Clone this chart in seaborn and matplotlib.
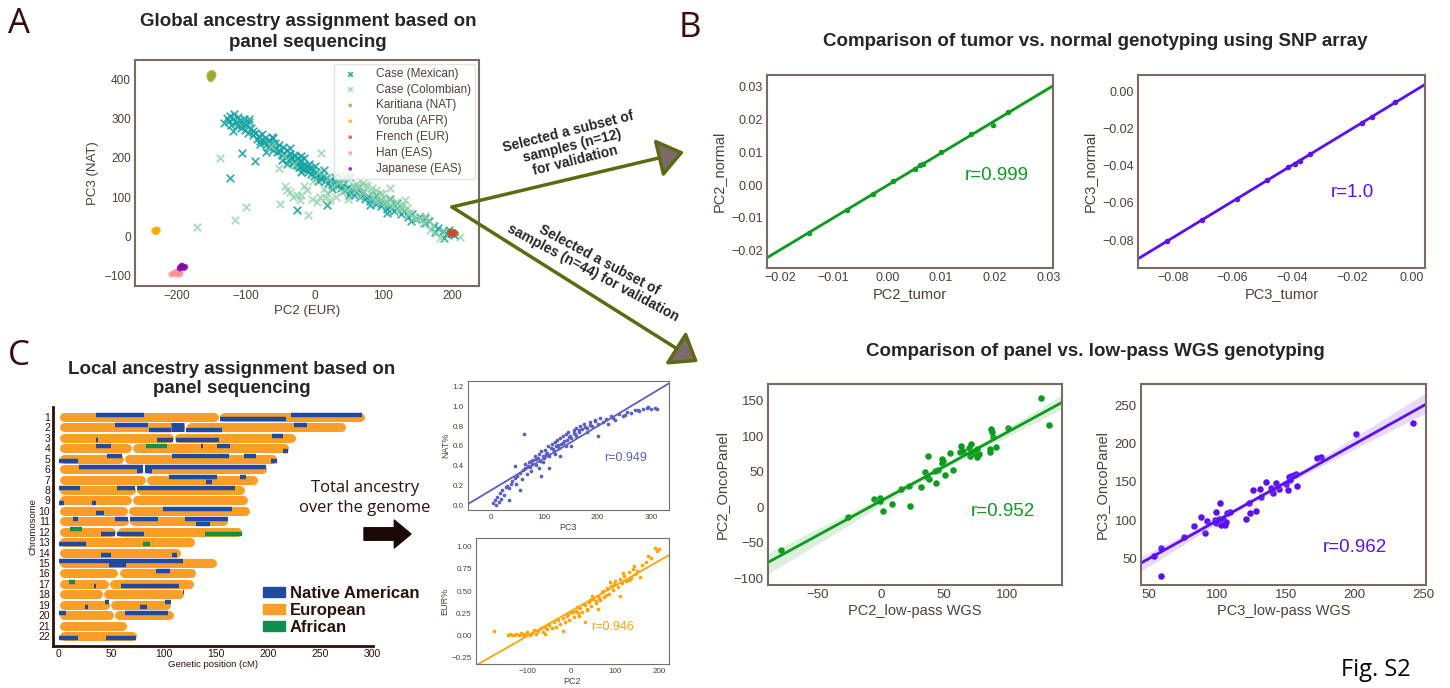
import matplotlib
matplotlib.use("Agg")
import matplotlib.pyplot as plt
from matplotlib.patches import FancyArrowPatch, Patch
import seaborn as sns

W, H = 1450, 688

# ---------------- panel A: global PCA (PC2 vs PC3) ----------------
MEX_PC2 = [-131, -127, -125, -123, -121, -119, -117, -114, -113, -111, -108, -107, -105, -103, -101,
           -99, -97, -95, -93, -90, -89, -86, -84, -81, -79, -77, -74, -72, -69, -67, -66, -63, -61,
           -58, -56, -54, -52, -50, -48, -46, -44, -42, -40, -38, -36, -34, -32, -30, -28, -27, -25,
           -23, -21, -19, -17, -15, -13, -11, -9, -7, -5, -3, -1, 2, 4, 7, 9, 12, 15, 17, 20, 23, 26,
           29, 32, 35, 38, 41, 44, 48, 51, 55, 58, 62, 66, 69, 73, 77, 81, 85, 89, 93, 97, 101, 106,
           110, 115, 120, 125, 130, 136, 141, 147, 153, 160, 166, 173, 180, 186, 191, 195, 199, 203,
           -123, -106, -86, -26, 18, 52, 110, -60, -20, 30,
           -118, -95, -80, -62, -48, -35, -20, -8, 5, 14, 25, 40, 50, 65, 80, 90, 105, 120, 140, 160,
           175, 188, -70, -40, 0, -15, -28, -24, -31, -22]
MEX_PC3 = [290, 302, 296, 308, 285, 300, 312, 293, 281, 305, 297, 278, 288, 300, 272,
           284, 265, 292, 276, 258, 270, 264, 249, 257, 243, 262, 240, 251, 236, 229, 247, 232, 221,
           238, 226, 215, 233, 219, 208, 227, 212, 203, 220, 196, 211, 199, 188, 207, 193, 182, 201,
           187, 178, 195, 172, 183, 168, 179, 164, 174, 160, 170, 155, 164, 150, 158, 146, 154, 140,
           149, 136, 144, 131, 139, 127, 135, 122, 131, 117, 126, 112, 120, 106, 114, 100, 109, 95,
           103, 89, 97, 83, 90, 76, 84, 70, 78, 64, 71, 57, 63, 50, 56, 43, 48, 34, 38, 25, 20, 12,
           6, 15, 9, 3, 148, 213, 192, 67, 80, 150, 95, 250, 205, 150,
           270, 300, 235, 255, 195, 225, 165, 185, 140, 168, 120, 145, 105, 125, 80, 105, 60, 85, 38,
           45, 10, -5, 215, 185, 180, 200, 205, 182, 190, 176]
COL_PC2 = [-171, -137, -115, -99, -64, -52, -50, -43, -36, -31, -26, -21, -16, -11, -9, -4, -2, 3,
           8, 9, 13, 18, 22, 27, 31, 37, 40, 42, 47, 49, 52, 56, 60, 61, 64, 66, 71, 74, 76, 80, 83,
           85, 88, 90, 95, 98, 100, 105, 108, 110, 114, 118, 124, 128, 131, 136, 139, 144, 148, 153,
           158, 165, 168, 172, 177, 182, 188, 211, -45, -30, 5, 20, 35, 58, 95, 125,
           -40, -20, 15, 45, 70, 102, 135, 160]
COL_PC3 = [24, 201, 40, 74, 230, 174, 82, 127, 112, 100, 106, 93, 128, 118, 54, 96, 140, 88,
           101, 212, 120, 109, 93, 127, 100, 157, 112, 140, 118, 96, 153, 131, 118, 127, 100, 144,
           114, 130, 127, 110, 122, 101, 90, 118, 93, 108, 101, 84, 95, 123, 76, 86, 67, 80, 93, 60,
           58, 50, 41, 45, 33, 41, 16, 28, 7, -6, 10, -2, 205, 185, 165, 148, 138, 125, 110, 78,
           118, 104, 98, 150, 135, 88, 72, 52]
KAR_PC2 = [-152, -150, -148, -150, -147, -153, -149, -151]
KAR_PC3 = [415, 412, 408, 405, 414, 408, 418, 402]
YRI_PC2 = [-232, -230, -229, -231, -233, -228]
YRI_PC3 = [15, 12, 17, 10, 13, 14]
FRE_PC2 = [196, 200, 203, 198, 205, 201, 199]
FRE_PC3 = [8, 5, 10, 12, 6, 8, 3]
HAN_PC2 = [-205, -200, -196, -202, -208, -195, -199]
HAN_PC3 = [-97, -95, -93, -92, -98, -96, -99]
JPT_PC2 = [-195, -192, -190, -193, -188, -196]
JPT_PC3 = [-80, -78, -82, -76, -79, -83]

# ---------------- panel B: tumor vs normal (SNP array) ----------------
PC2_TUMOR = [-0.0145, -0.0075, -0.0027, 0.0011, 0.0051, 0.0061, 0.0067, 0.0099, 0.0155, 0.0196, 0.0225]
PC2_NORMAL = [-0.0145, -0.0076, -0.0027, 0.0011, 0.0050, 0.0061, 0.0065, 0.0100, 0.0155, 0.0184, 0.0224]
PC3_TUMOR = [-0.082, -0.0702, -0.0587, -0.0485, -0.0414, -0.0392, -0.0375, -0.0341, -0.0168, -0.0134, -0.0056]
PC3_NORMAL = [-0.0804, -0.0692, -0.0579, -0.0478, -0.0408, -0.039, -0.0374, -0.0338, -0.0167, -0.0137, -0.0056]

# ---------------- panel B (bottom): panel vs low-pass WGS ----------------
PC2_WGS = [127.1, 133.2, -79.2, -26.1, -5.4, -0.9, -0.4, 1.2, 8.4, 15.6, 22.5, 23.0, 31.8, 35.0,
           37.1, 36.8, 38.4, 42.9, 43.7, 48.8, 48.8, 49.0, 51.1, 54.9, 57.0, 62.8, 63.4, 65.0, 69.5,
           71.6, 70.8, 73.4, 75.6, 76.6, 78.2, 76.1, 87.5, 88.0, 86.7, 86.7, 91.5, 88.8, 100.8, 45.6]
PC2_PANEL = [154.2, 115.8, -60.1, -14.2, 11.2, 12.6, 9.3, -5.3, 5.1, 26.2, 30.0, 2.3, 28.1, 50.1,
             72.1, 43.1, 39.8, 51.5, 33.7, 67.4, 62.8, 65.1, 44.9, 76.8, 52.4, 77.3, 85.7, 79.6, 83.9,
             89.0, 72.1, 75.9, 78.7, 71.2, 75.0, 82.0, 110.1, 105.4, 78.2, 82.0, 84.3, 98.4, 111.1, 52.4]
PC3_WGS = [53.6, 59.0, 59.0, 75.3, 82.6, 88.2, 91.1, 92.6, 97.9, 99.1, 99.1, 101.6, 101.1, 102.8,
           104.0, 105.7, 106.4, 106.9, 109.4, 121.0, 123.0, 124.0, 125.9, 127.9, 130.8, 131.5, 135.2,
           138.8, 140.0, 140.5, 142.9, 144.9, 150.2, 151.4, 152.2, 152.7, 153.9, 155.6, 157.5, 158.0,
           172.6, 175.1, 201.3, 242.2]
PC3_PANEL = [53.5, 64.0, 27.3, 78.4, 92.4, 104.6, 83.6, 99.3, 100.2, 111.1, 96.7, 122.1, 101.1, 93.7,
             101.1, 93.7, 97.2, 108.9, 111.1, 101.5, 122.9, 108.9, 139.5, 112.0, 140.4, 129.9, 150.4,
             141.7, 138.6, 135.2, 149.1, 140.8, 146.9, 139.5, 156.1, 152.6, 157.9, 159.2, 160.0, 145.2,
             181.0, 182.3, 212.9, 226.9]

# ---------------- panel C: local ancestry ----------------
CHR_LEN = [293, 275, 227, 220, 209, 199, 191, 178, 181, 183, 162, 175, 130, 117, 151, 131, 129, 120, 107, 110, 65, 75]
CHR_CEN = [153, 121, 110, 70, 62, 81, 83, 74, 70, 66, 67, 55, 0, 0, 0, 57, 48, 42, 49, 53, 0, 0]
# native american tracts: chromosome, start, end, haplotype (0 top, 1 bottom, 2 both)
NAT_CHR = [1, 1, 1, 2, 2, 2, 2, 2, 3, 3, 3, 3, 4, 4, 4, 4, 5, 5, 5, 5, 5, 6, 6, 6, 6,
           7, 7, 7, 8, 8, 8, 9, 9, 10, 10, 11, 11, 11, 11, 11, 12, 12, 13, 14, 14, 15, 15,
           16, 17, 17, 18, 19, 19, 19, 19, 20, 20, 22, 22]
NAT_START = [35, 222, 154, 54, 86, 107, 122, 225, 35, 94, 112, 204, 35, 136, 151, 214, 0, 46, 108, 177, 203, 19, 75, 82, 82,
             105, 141, 173, 0, 56, 75, 0, 32, 35, 100, 13, 54, 68, 121, 131, 40, 56, 0, 40, 108, 0, 48,
             93, 34, 59, 119, 25, 44, 78, 101, 0, 63, 0, 45]
NAT_END = [81, 290, 217, 85, 107, 120, 156, 237, 37, 109, 153, 214, 50, 138, 164, 219, 18, 60, 163, 189, 209, 80, 80, 198, 89,
           151, 146, 179, 20, 73, 168, 5, 35, 43, 166, 18, 66, 95, 162, 145, 54, 81, 26, 50, 113, 119, 64,
           106, 35, 115, 120, 28, 48, 84, 107, 7, 104, 18, 74]
NAT_HAP = [0, 0, 1, 0, 1, 2, 1, 0, 1, 1, 1, 0, 0, 0, 0, 1, 1, 0, 0, 0, 1, 0, 1, 0, 1,
           0, 1, 0, 0, 0, 0, 1, 1, 1, 0, 0, 0, 0, 0, 1, 1, 1, 1, 1, 1, 0, 1,
           0, 1, 1, 0, 1, 0, 1, 0, 0, 0, 1, 1]
AFR_CHR = [4, 12, 12, 13, 17]
AFR_START = [83, 11, 140, 80, 10]
AFR_END = [103, 22, 175, 87, 15]
AFR_HAP = [0, 0, 1, 1, 0]

NAT_PC3 = [5, 8, 10, 12, 15, 18, 20, 22, 25, 28, 30, 35, 38, 40, 45, 48, 50, 55, 58, 60, 62, 65, 68,
           70, 72, 75, 78, 80, 82, 85, 88, 90, 92, 95, 98, 100, 102, 105, 108, 110, 112, 115, 118, 120,
           122, 125, 128, 130, 132, 135, 138, 140, 142, 145, 148, 150, 155, 158, 160, 165, 168, 170, 175,
           180, 185, 190, 195, 200, 205, 210, 215, 220, 225, 232, 240, 248, 255, 262, 270, 278, 285, 292,
           300, 308, 312, 110, 95, 130, 150, 200, 55, 45, 35, 140, 160, 180, 90, 120, 75, 65,
           104, 116, 126, 136, 146, 156, 166, 176, 186, 196, 84, 74, 98, 228, 252, 275, 295]
NAT_FRAC = [0.02, 0.05, 0.0, 0.08, 0.03, 0.12, 0.06, 0.15, 0.1, 0.18, 0.2, 0.17, 0.22, 0.25, 0.28, 0.22,
            0.3, 0.33, 0.27, 0.36, 0.72, 0.38, 0.32, 0.4, 0.44, 0.35, 0.42, 0.46, 0.5, 0.41, 0.48, 0.52,
            0.45, 0.55, 0.5, 0.48, 0.56, 0.53, 0.6, 0.5, 0.58, 0.62, 0.55, 0.64, 0.6, 0.66, 0.58, 0.68,
            0.62, 0.7, 0.65, 0.72, 0.66, 0.74, 0.7, 0.68, 0.76, 0.72, 0.78, 0.74, 0.8, 0.77, 0.82, 0.78,
            0.84, 0.8, 0.86, 0.82, 0.88, 0.84, 0.87, 0.82, 0.9, 0.86, 0.92, 0.9, 0.94, 0.93, 0.96, 0.95,
            0.97, 0.98, 0.97, 0.98, 0.97, 0.38, 0.3, 0.5, 0.6, 0.7, 0.15, 0.4, 0.05, 0.6, 0.7, 0.74, 0.38,
            0.52, 0.45, 0.42,
            0.52, 0.57, 0.61, 0.63, 0.69, 0.73, 0.76, 0.79, 0.81, 0.85, 0.47, 0.39, 0.44, 0.88, 0.91, 0.96, 0.99]
EUR_PC2 = [-175, -145, -140, -135, -130, -125, -120, -115, -110, -105, -100, -95, -90, -85, -80, -75,
           -70, -65, -60, -55, -50, -45, -40, -35, -30, -25, -20, -15, -10, -5, 0, 5, 10, 15, 20, 25,
           30, 35, 40, 45, 50, 55, 60, 65, 70, 75, 80, 85, 90, 95, 100, 105, 110, 115, 120, 125, 130,
           135, 140, 145, 150, 160, 170, 180, 190, 195, 200, -60, -20, 30, 60, 110, 12, 42, 72, 88, 132,
           -8, 3, 18, 28, 36, 48, 56, 64, 78, 96, 118, 142, 155, 175]
EUR_FRAC = [0.05, 0.0, 0.02, 0.01, 0.0, 0.02, 0.01, 0.03, 0.0, 0.02, 0.04, 0.01, 0.03, 0.06, 0.02, 0.05,
            0.08, 0.04, 0.1, 0.07, 0.12, 0.08, 0.15, 0.1, 0.17, 0.13, 0.2, 0.15, 0.22, 0.18, 0.26, 0.21,
            0.28, 0.25, 0.31, 0.27, 0.34, 0.3, 0.38, 0.33, 0.41, 0.37, 0.45, 0.4, 0.49, 0.43, 0.53, 0.47,
            0.56, 0.51, 0.61, 0.55, 0.64, 0.59, 0.67, 0.61, 0.71, 0.65, 0.75, 0.69, 0.73, 0.79, 0.83,
            0.87, 0.98, 0.95, 0.97, 0.02, 0.05, 0.15, 0.3, 0.45, 0.32, 0.4, 0.5, 0.6, 0.62,
            0.24, 0.27, 0.22, 0.35, 0.29, 0.44, 0.39, 0.42, 0.46, 0.58, 0.7, 0.78, 0.66, 0.9]

SPINE = "#7b6a60"
TXT = "#4e3f39"
DARK = "#2e100b"
GREEN = "#0d9b1e"
PURPLE = "#5a10f0"
BLUE = "#1f4aa0"
ORANGE = "#fb9e28"
AFR_GREEN = "#0f8f4c"


def box(l, t, r, b):
    return [l / W, 1 - b / H, (r - l) / W, (b - t) / H]


def fpos(x, y):
    return x / W, 1 - y / H


def style(ax, tick_fs=9, lab_fs=10, color=SPINE, lw=1.5):
    for s in ax.spines.values():
        s.set_color(color)
        s.set_linewidth(lw)
    ax.tick_params(labelsize=tick_fs, colors=TXT, length=0, pad=3)
    ax.xaxis.label.set_size(lab_fs)
    ax.yaxis.label.set_size(lab_fs)
    ax.xaxis.label.set_color(TXT)
    ax.yaxis.label.set_color(TXT)


def reg(ax, x, y, color, xlim, ylim, s=18, ci=95, lw=2):
    ax.set_xlim(xlim)
    ax.set_ylim(ylim)
    sns.regplot(x=x, y=y, ax=ax, color=color, ci=ci, truncate=False, seed=1,
                scatter_kws={"s": s, "alpha": 1, "linewidths": 0}, line_kws={"lw": lw})
    ax.set_xlim(xlim)
    ax.set_ylim(ylim)


sns.set_style("white")
plt.rcParams["font.family"] = ["Liberation Sans", "DejaVu Sans"]
plt.rcParams["axes.unicode_minus"] = True

fig = plt.figure(figsize=(W / 100, H / 100), dpi=100)

# panel letters / section titles
for letter, (px, py) in [("A", (19, 24)), ("B", (690, 28)), ("C", (19, 356))]:
    fig.text(*fpos(px, py), letter, fontsize=25, color="#3a0b0b", family="Open Sans",
             ha="center", va="center")
fig.text(*fpos(308, 32), "Global ancestry assignment based on\npanel sequencing", fontsize=13.5,
         fontweight="bold", ha="center", va="center", linespacing=1.25)
fig.text(*fpos(1095, 41), "Comparison of tumor vs. normal genotyping using SNP array", fontsize=13.5,
         fontweight="bold", ha="center", va="center")
fig.text(*fpos(1095, 351), "Comparison of panel vs. low-pass WGS genotyping", fontsize=13.5,
         fontweight="bold", ha="center", va="center")
fig.text(*fpos(232, 379), "Local ancestry assignment based on\npanel sequencing", fontsize=13.5,
         fontweight="bold", ha="center", va="center", linespacing=1.2)

# ---- A ----
axA = fig.add_axes(box(135, 60, 479, 286))
groups = [
    ("Case (Mexican)", MEX_PC2, MEX_PC3, "#14a2a2", "x", 30, 0.85),
    ("Case (Colombian)", COL_PC2, COL_PC3, "#8ed1a6", "x", 30, 0.75),
    ("Karitiana (NAT)", KAR_PC2, KAR_PC3, "#9aab2e", "o", 20, 0.8),
    ("Yoruba (AFR)", YRI_PC2, YRI_PC3, "#ffa800", "o", 20, 0.8),
    ("French (EUR)", FRE_PC2, FRE_PC3, "#c0532c", "o", 20, 0.8),
    ("Han (EAS)", HAN_PC2, HAN_PC3, "#ff9090", "o", 20, 0.8),
    ("Japanese (EAS)", JPT_PC2, JPT_PC3, "#7e0aa8", "o", 20, 0.8),
]
for name, xs, ys, c, m, s, a in groups:
    if m == "x":
        sns.scatterplot(x=xs, y=ys, ax=axA, color=c, marker=m, s=s, linewidth=1.3, alpha=a, label=name)
    else:
        sns.scatterplot(x=xs, y=ys, ax=axA, color=c, marker=m, s=s, edgecolor="none", alpha=a, label=name)
axA.set_xlim(-261, 239)
axA.set_ylim(-128, 451)
axA.set_xticks([-200, -100, 0, 100, 200])
axA.set_yticks([-100, 0, 100, 200, 300, 400])
axA.set_xlabel("PC2 (EUR)", labelpad=2)
axA.set_ylabel("PC3 (NAT)", labelpad=4)
style(axA, 8.5, 9.5)
leg = axA.legend(loc="upper right", fontsize=8.5, frameon=True, borderpad=0.35, labelspacing=0.33,
                 handletextpad=1.2, markerscale=0.6, borderaxespad=0.3)
leg.get_frame().set_edgecolor("#dddddd")
for t in leg.get_texts():
    t.set_color(TXT)

# arrows A -> B
for (x0, y0), (x1, y1) in [((452, 207), (684, 152)), ((452, 207), (698, 362))]:
    fig.add_artist(FancyArrowPatch(fpos(x0, y0), fpos(x1, y1), transform=fig.transFigure,
                                   arrowstyle="-|>,head_length=1.6,head_width=1.2", mutation_scale=10,
                                   shrinkA=0, shrinkB=0, lw=2.5, edgecolor="#5d6a12",
                                   facecolor="#7b6b6b"))
fig.text(*fpos(572, 146), "Selected a subset of\nsamples (n=12)\nfor validation", fontsize=10,
         fontweight="bold", rotation=14, ha="center", va="center", rotation_mode="anchor",
         linespacing=1.05)
fig.text(*fpos(596, 266), "Selected a subset of\nsamples (n=44) for validation", fontsize=10,
         fontweight="bold", rotation=-28, ha="center", va="center", rotation_mode="anchor",
         linespacing=1.05)

# ---- B top ----
axB1 = fig.add_axes(box(767, 75, 1053, 268))
reg(axB1, PC2_TUMOR, PC2_NORMAL, GREEN, (-0.0224, 0.0308), (-0.0253, 0.0336), s=16)
axB1.set_xticks([-0.02, -0.01, 0.0, 0.01, 0.02, 0.03])
axB1.set_yticks([-0.02, -0.01, 0.0, 0.01, 0.02, 0.03])
axB1.set_xlabel("PC2_tumor", labelpad=2)
axB1.set_ylabel("PC2_normal", labelpad=4)
style(axB1, 9, 10.5)
fig.text(*fpos(997, 175), "r=0.999", color=GREEN, fontsize=13.5, ha="center", va="center")

axB2 = fig.add_axes(box(1138, 75, 1425, 268))
reg(axB2, PC3_TUMOR, PC3_NORMAL, PURPLE, (-0.0917, 0.0044), (-0.0951, 0.009), s=16)
axB2.set_xticks([-0.08, -0.06, -0.04, -0.02, 0.0])
axB2.set_yticks([-0.08, -0.06, -0.04, -0.02, 0.0])
axB2.set_xlabel("PC3_tumor", labelpad=2)
axB2.set_ylabel("PC3_normal", labelpad=4)
style(axB2, 9, 10.5)
fig.text(*fpos(1352, 193), "r=1.0", color=PURPLE, fontsize=13.5, ha="center", va="center")

# ---- B bottom ----
axD1 = fig.add_axes(box(768, 384, 1062, 585))
reg(axD1, PC2_WGS, PC2_PANEL, GREEN, (-89.7, 143.7), (-109.4, 173.5), s=22)
axD1.set_xticks([-50, 0, 50, 100])
axD1.set_yticks([-100, -50, 0, 50, 100, 150])
axD1.set_xlabel("PC2_low-pass WGS", labelpad=2)
axD1.set_ylabel("PC2_OncoPanel", labelpad=4)
style(axD1, 9.5, 10.5)
fig.text(*fpos(1003, 511), "r=0.952", color=GREEN, fontsize=13.5, ha="center", va="center")

axD2 = fig.add_axes(box(1141, 384, 1426, 585))
reg(axD2, PC3_WGS, PC3_PANEL, PURPLE, (44.2, 252), (15, 278.4), s=22)
axD2.set_xticks([50, 100, 150, 200, 250])
axD2.set_yticks([50, 100, 150, 200, 250])
axD2.set_xlabel("PC3_low-pass WGS", labelpad=2)
axD2.set_ylabel("PC3_OncoPanel", labelpad=4)
style(axD2, 9.5, 10.5)
fig.text(*fpos(1355, 548), "r=0.962", color=PURPLE, fontsize=13.5, ha="center", va="center")

# ---- C: chromosome painting ----
axC = fig.add_axes(box(53, 407, 373, 646))
cap = 4.3  # round cap radius in cM
for i, (L, c) in enumerate(zip(CHR_LEN, CHR_CEN)):
    y = i + 1
    arms = [(0, c), (c, L)] if c else [(0, L)]
    for a, b in arms:
        axC.plot([a + cap + 0.6, b - cap - 0.6], [y, y], color=ORANGE, lw=6.5, solid_capstyle="round")
for segs, col in [((NAT_CHR, NAT_START, NAT_END, NAT_HAP), BLUE), ((AFR_CHR, AFR_START, AFR_END, AFR_HAP), AFR_GREEN)]:
    for ch, s0, e0, hp in zip(*segs):
        if hp == 2:
            axC.plot([s0, e0], [ch, ch], color=col, lw=6.5, solid_capstyle="butt")
        else:
            yy = ch - 0.22 if hp == 0 else ch + 0.22
            axC.plot([s0, e0], [yy, yy], color=col, lw=3.2, solid_capstyle="butt")
axC.set_xlim(-5.7, 300.5)
axC.set_ylim(22.96, 0.04)
axC.set_yticks(range(1, 23))
axC.set_xticks([0, 50, 100, 150, 200, 250, 300])
axC.set_xlabel("Genetic position (cM)", labelpad=1)
axC.set_ylabel("Chromosome", labelpad=1)
for side in ["top", "right"]:
    axC.spines[side].set_visible(False)
for side in ["left", "bottom"]:
    axC.spines[side].set_color(DARK)
    axC.spines[side].set_linewidth(2)
axC.tick_params(labelsize=7.5, colors=DARK, length=0, pad=2)
axC.xaxis.label.set_size(6.8)
axC.yaxis.label.set_size(6.8)
axC.xaxis.label.set_color(DARK)
axC.yaxis.label.set_color(DARK)
handles = [Patch(color=BLUE, label="Native American"), Patch(color=ORANGE, label="European"),
           Patch(color=AFR_GREEN, label="African")]
legC = fig.legend(handles=handles, loc="upper left", bbox_to_anchor=fpos(255, 578), frameon=False,
                  handlelength=1.3, handleheight=0.55, labelspacing=0.1,
                  handletextpad=0.3, borderpad=0, prop={"weight": "bold", "size": 12})
for t in legC.get_texts():
    t.set_color(DARK)

fig.text(*fpos(365, 498), "Total ancestry\nover the genome", fontsize=12, family="Open Sans",
         color="#2a1410", ha="center", va="center", linespacing=1.3)
fig.add_artist(FancyArrowPatch(fpos(364, 534), fpos(411, 534), transform=fig.transFigure,
                               arrowstyle="simple,head_length=0.6,head_width=1.0,tail_width=0.45",
                               mutation_scale=20, shrinkA=0, shrinkB=0, color="#1a0806"))

axC1 = fig.add_axes(box(468, 381, 669, 510))
reg(axC1, NAT_PC3, NAT_FRAC, "#5b5ec4", (-42.5, 333.7), (-0.047, 1.254), s=7, ci=None, lw=1.3)
axC1.set_xticks([0, 100, 200, 300])
axC1.set_yticks([0.0, 0.2, 0.4, 0.6, 0.8, 1.0, 1.2])
axC1.set_xlabel("PC3", labelpad=1)
axC1.set_ylabel("NAT%", labelpad=2)
style(axC1, 5.8, 6.5, color="#6f6f6f", lw=0.8)
fig.text(*fpos(626, 458), "r=0.949", color="#5b5ec4", fontsize=9, ha="center", va="center")

axC2 = fig.add_axes(box(476, 538, 669, 664))
reg(axC2, EUR_PC2, EUR_FRAC, "#ffa30a", (-216.6, 222), (-0.321, 1.098), s=7, ci=None, lw=1.3)
axC2.set_xticks([-100, 0, 100, 200])
axC2.set_yticks([-0.25, 0.0, 0.25, 0.5, 0.75, 1.0])
axC2.set_xlabel("PC2", labelpad=1)
axC2.set_ylabel("EUR%", labelpad=2)
style(axC2, 5.8, 6.5, color="#6f6f6f", lw=0.8)
fig.text(*fpos(613, 627), "r=0.946", color="#ffa30a", fontsize=9, ha="center", va="center")

fig.text(*fpos(1376, 670), "Fig. S2", fontsize=17, family="Open Sans", color="black",
         ha="center", va="center")

fig.savefig("out.png", dpi=100)
